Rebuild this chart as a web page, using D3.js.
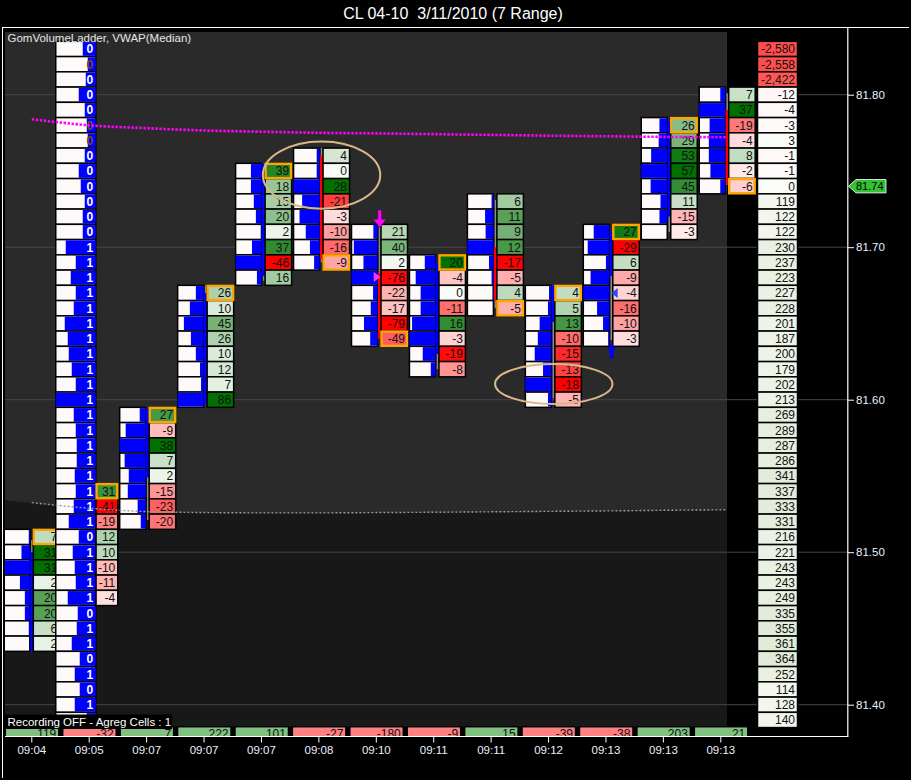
<!DOCTYPE html>
<html><head><meta charset="utf-8">
<script src="https://cdn.jsdelivr.net/npm/d3@7"></script>
<style>body{margin:0;background:#000;} svg{display:block;} text{font-family:"Liberation Sans",Arial,sans-serif;}</style>
</head><body><svg id="c" width="911" height="780"></svg>
<script>
// ---------------- DATA ----------------
const times = ["09:04","09:05","09:07","09:07","09:07","09:08","09:10","09:11","09:11","09:12","09:13","09:13","09:13"];
const topPrice = [81.51,81.54,81.59,81.67,81.75,81.76,81.71,81.69,81.73,81.67,81.71,81.78,81.80];
const closeCell = [81.51,81.54,81.59,81.67,81.75,81.69,81.64,81.69,81.66,81.67,81.71,81.78,81.74];
const deltas = [
  [7,31,31,2,20,20,6,2],
  [31,-41,-19,12,10,-10,-11,-4],
  [27,-9,38,7,2,-15,-23,-20],
  [26,10,45,26,10,12,7,86],
  [39,18,15,20,2,37,-46,16],
  [4,0,28,-21,-3,-10,-16,-9],
  [21,40,2,-76,-22,-17,-79,-49],
  [20,-4,0,-11,16,-3,-19,-8],
  [6,11,9,12,-17,-5,4,-5],
  [4,5,13,-10,-15,-13,-18,-5],
  [27,-29,6,-9,-4,-16,-10,-3],
  [26,29,53,57,45,11,-15,-3],
  [7,37,-19,-4,8,-2,-6]
];
const volumes = [
  [4,32,100,38,19,19,4,0],
  null,
  [23,77,100,81,65,69,31,19],
  [30,53,76,49,30,14,10,100],
  [41,41,30,22,3,37,100,18],
  [11,11,100,67,77,53,37,21],
  [16,91,54,100,17,26,52,28],
  [41,76,57,57,90,100,49,18],
  [7,32,30,100,17,7,3,0],
  [9,13,45,52,64,32,100,13],
  [60,83,13,72,100,47,24,4],
  [30,33,62,100,64,26,30,0],
  [19,100,60,63,63,57,19]
];
// long ladder of the 09:05 bar (81.83 down to 81.39)
const firstLadderTop = 81.83;
const firstLadderVol = [13,8,10,17,11,9,8,11,17,15,11,13,13,30,20,25,20,22,31,28,27,24,20,40,22,20,19,19,21,20,22,27,17,23,21,20,28,18,19,24,16,21,16,21,9];
const firstLadderLbl = ["0","0","0","0","0","0","0","0","0","0","0","0","0","1","1","1","1","1","1","1","1","1","1","1","1","1","1","1","1","1","1","1","0","1","1","1","1","0","1","1","0","1","0","1",""];
const open  = [81.435,null,81.549,81.597,81.681,81.760,81.683,81.630,81.700,81.651,81.681,81.720,81.790];
const close = [81.500,null,81.594,81.670,81.755,81.692,81.640,81.690,81.665,81.675,81.710,81.783,81.741];
const high  = [81.508,null,81.594,81.675,81.755,81.765,81.713,81.690,81.731,81.675,81.710,81.783,81.801];
const low   = [81.435,null,81.521,81.597,81.678,81.690,81.640,81.620,81.660,81.601,81.639,81.710,81.741];
const vwap = [81.7839,81.7799,81.7780,81.7765,81.7757,81.7750,81.7746,81.7741,81.7736,81.7731,81.7727,81.7723,81.7721];
const lowerBand = [81.5325,81.5288,81.5266,81.5260,81.5258,81.5258,81.5260,81.5262,81.5265,81.5268,81.5271,81.5275,81.5278];
const barTotals = [119,-32,7,222,101,-27,-180,-9,15,-39,-38,203,21];
const profileTop = 81.83;
const profile = [-2580,-2558,-2422,-12,-4,-3,3,-1,-1,0,119,122,122,230,237,223,227,228,201,187,200,179,202,213,269,289,287,286,341,337,333,331,216,221,243,243,249,335,355,361,364,252,114,128,140];
const priceTicks = [81.40,81.50,81.60,81.70,81.80];
const lastPrice = 81.74;
const title = "CL 04-10  3/11/2010 (7 Range)";
const indicatorLabel = "GomVolumeLadder, VWAP(Median)";
const statusLabel = "Recording OFF - Agreg Cells : 1";

// ---------------- CHART ----------------
const svg = d3.select("#c");
const W = 911, H = 780;
svg.append("rect").attr("width", W).attr("height", H).attr("fill", "#000");

const y = d3.scaleLinear().domain([81.40, 81.80]).range([704.7, 94.7]);
const cellH = Math.abs(y(81.41) - y(81.40));
const xBar = d3.scaleLinear().domain([0, 12]).range([3.8, 699.2]);
const xTime = d3.scaleLinear().domain([0, 12]).range([31.3, 720.3]);
const rp = v => Math.round(v * 100) / 100;
const font = '"Liberation Sans", Arial, sans-serif';
const fmtThousands = v => d3.format(",")(v).replace("\u2212", "-");

const defs = svg.append("defs");
defs.append("clipPath").attr("id", "plot").append("rect").attr("x", 5).attr("y", 32).attr("width", 843).attr("height", 704);
defs.append("clipPath").attr("id", "bottomRow").append("rect").attr("x", 0).attr("y", 726).attr("width", 848).attr("height", 10);

// frame
svg.append("line").attr("x1", 2).attr("x2", 909).attr("y1", 27.5).attr("y2", 27.5).attr("stroke", "#fff").attr("stroke-width", 1);
svg.append("line").attr("x1", 2.5).attr("x2", 2.5).attr("y1", 27).attr("y2", 778).attr("stroke", "#fff").attr("stroke-width", 1);

// title
svg.append("text").attr("x", 453).attr("y", 18.5).attr("text-anchor", "middle").attr("fill", "#fff")
  .attr("xml:space", "preserve").style("white-space", "pre")
  .style("font-size", "16px").text(title);

const plot = svg.append("g").attr("clip-path", "url(#plot)");

// panel background
plot.append("rect").attr("x", 5).attr("y", 32).attr("width", 722).attr("height", 695).attr("fill", "#181818");
const bandPts = lowerBand.map((v, i) => [xBar(i) + 28, y(v)]);
const upperPoly = [[5, 32], [727, 32], [727, bandPts[bandPts.length - 1][1]]]
  .concat(bandPts.slice().reverse()).concat([[5, bandPts[0][1] - 2.5]]);
plot.append("path").attr("d", d3.line()(upperPoly) + "Z").attr("fill", "#2a2a2a");

// grid
plot.selectAll(".grid").data(priceTicks).join("line")
  .attr("x1", 5).attr("x2", 848).attr("y1", d => y(d)).attr("y2", d => y(d))
  .attr("stroke", "#474747").attr("stroke-width", 1);

function deltaColor(v, m) {
  const t = Math.min(1, Math.abs(v) / m);
  if (v >= 0) return d3.interpolateRgb("#f8fbf6", "#007000")(t);
  return d3.interpolateRgb("#fff6f6", "#ff0000")(t);
}

const bars = plot.append("g");
deltas.forEach((dl, i) => {
  const L = xBar(i);
  const g = bars.append("g");
  if (i === 1) {
    const lx = L - 6, lw = 40;
    const vmax = d3.max(firstLadderVol);
    const wS = d3.scaleLinear().domain([0, vmax]).range([0, lw]);
    firstLadderVol.forEach((v, k) => {
      const p = rp(firstLadderTop - 0.01 * k);
      const yc = y(p);
      g.append("rect").attr("x", lx).attr("y", yc - cellH / 2).attr("width", lw).attr("height", cellH)
        .attr("fill", "#fffafa").attr("stroke", "#000").attr("stroke-width", 1.5);
      g.append("rect").attr("x", lx + lw - wS(v)).attr("y", yc - cellH / 2 + 0.75).attr("width", wS(v)).attr("height", cellH - 1.5)
        .attr("fill", "#0000ff");
      if (firstLadderLbl[k] !== "")
        g.append("text").attr("x", lx + lw - 2.5).attr("y", yc + 4.5).attr("text-anchor", "end")
          .attr("fill", wS(v) > 9.5 ? "#fff" : "#7a4a10").style("font-size", "12px").style("font-weight", "bold")
          .text(firstLadderLbl[k]);
    });
  } else {
    const lw = 26;
    const vol = volumes[i];
    const wS = d3.scaleLinear().domain([0, d3.max(vol)]).range([0, lw]);
    vol.forEach((v, k) => {
      const yc = y(rp(topPrice[i] - 0.01 * k));
      g.append("rect").attr("x", L).attr("y", yc - cellH / 2).attr("width", lw).attr("height", cellH)
        .attr("fill", "#fffafa").attr("stroke", "#000").attr("stroke-width", 1.5);
      g.append("rect").attr("x", L + lw - wS(v)).attr("y", yc - cellH / 2 + 0.75).attr("width", wS(v)).attr("height", cellH - 1.5)
        .attr("fill", "#0000ff");
    });
  }
  if (open[i] !== null) {
    const up = close[i] >= open[i];
    g.append("rect").attr("x", L + 27.3).attr("width", 1.8).attr("y", y(high[i])).attr("height", Math.max(1, y(low[i]) - y(high[i])))
      .attr("fill", "#8a8a8a");
    g.append("rect").attr("x", L + 26.5).attr("width", 3.4)
      .attr("y", y(Math.max(open[i], close[i]))).attr("height", Math.abs(y(open[i]) - y(close[i])))
      .attr("fill", up ? "#0000ff" : "#ff0000");
  }
  const dx = i === 1 ? L + 34.3 : L + 29.5;
  const dw = L + 56 - dx;
  const m = d3.max(dl, d => Math.abs(d));
  dl.forEach((v, k) => {
    const p = rp(topPrice[i] - 0.01 * k);
    const yc = y(p);
    g.append("rect").attr("x", dx).attr("y", yc - cellH / 2).attr("width", dw).attr("height", cellH)
      .attr("fill", deltaColor(v, m)).attr("stroke", "#000").attr("stroke-width", 1.5);
    g.append("text").attr("x", dx + dw - 2.5).attr("y", yc + 4.3).attr("text-anchor", "end")
      .attr("fill", "#111").style("font-size", "12px").text(v);
  });
  const yc = y(closeCell[i]);
  g.append("rect").attr("x", dx + 0.5).attr("y", yc - cellH / 2 + 0.5).attr("width", dw - 1).attr("height", cellH - 1)
    .attr("fill", "none").attr("stroke", "#ffa500").attr("stroke-width", 2.4);
});

// right profile ladder
const pg = plot.append("g");
const posMax = d3.max(profile), negMax = Math.abs(d3.min(profile));
profile.forEach((v, k) => {
  const yc = y(rp(profileTop - 0.01 * k));
  const fill = v < 0 ? d3.interpolateRgb("#fff8f8", "#ff4c4c")(Math.abs(v) / negMax)
                     : d3.interpolateRgb("#fcfcf8", "#e0ebd8")(v / posMax);
  pg.append("rect").attr("x", 757.5).attr("y", yc - cellH / 2).attr("width", 40).attr("height", cellH)
    .attr("fill", fill).attr("stroke", "#000").attr("stroke-width", 1.5);
  pg.append("text").attr("x", 795).attr("y", yc + 4.3).attr("text-anchor", "end").attr("fill", "#111")
    .style("font-size", "12px").text(fmtThousands(v));
});

// VWAP + lower band lines
const lineGen = d3.line().x((d, i) => xBar(i) + 28).y(d => y(d)).curve(d3.curveMonotoneX);
plot.append("path").attr("d", lineGen(lowerBand)).attr("fill", "none").attr("stroke", "#9a9a9a")
  .attr("stroke-width", 1.4).attr("stroke-dasharray", "2,2");
plot.append("path").attr("d", lineGen(vwap)).attr("fill", "none").attr("stroke", "#ff00ff")
  .attr("stroke-width", 2.6).attr("stroke-dasharray", "2.4,1.6");

// annotations
const ann = plot.append("g");
ann.append("ellipse").attr("cx", xBar(5) + 28).attr("cy", y(81.7473)).attr("rx", 58.7).attr("ry", 33.6)
  .attr("fill", "none").attr("stroke", "#d8b888").attr("stroke-width", 2);
ann.append("ellipse").attr("cx", xBar(9) + 28.4).attr("cy", y(81.6103)).attr("rx", 58.7).attr("ry", 20)
  .attr("fill", "none").attr("stroke", "#d8b888").attr("stroke-width", 2);
{
  const cx = xBar(6) + 28.2, tip = y(high[6]);
  ann.append("rect").attr("x", cx - 1.6).attr("y", tip - 17).attr("width", 3.2).attr("height", 10).attr("fill", "#ff00ff");
  ann.append("path").attr("d", `M${cx - 6},${tip - 8} L${cx + 6},${tip - 8} L${cx},${tip} Z`).attr("fill", "#ff00ff");
  const ty = y(81.6805);
  ann.append("path").attr("d", `M${cx - 6},${ty - 5} L${cx + 1},${ty} L${cx - 6},${ty + 5} Z`).attr("fill", "#ff33ff");
}
{
  const cx = xBar(10) + 28.3;
  const ty = y(81.67);
  ann.append("path").attr("d", `M${cx + 6},${ty - 5} L${cx},${ty} L${cx + 6},${ty + 5} Z`).attr("fill", "#3344ff");
  const tip = y(low[10]) + 3;
  ann.append("path").attr("d", `M${cx - 4},${tip + 7} L${cx + 4},${tip + 7} L${cx},${tip} Z`).attr("fill", "#0000ff");
  ann.append("rect").attr("x", cx - 2).attr("y", tip + 6).attr("width", 4).attr("height", 9).attr("fill", "#0000ff");
}

// bottom totals row
const br = svg.append("g").attr("clip-path", "url(#bottomRow)");
barTotals.forEach((v, i) => {
  const T = xTime(i);
  const x0 = Math.max(5, T - 26), x1 = T + 27.5;
  br.append("rect").attr("x", x0).attr("y", 726.7).attr("width", x1 - x0).attr("height", 14)
    .attr("fill", v >= 0 ? "#80c080" : "#ff8080").attr("stroke", "#000").attr("stroke-width", 1.5);
  br.append("text").attr("x", x1 - 2.5).attr("y", 737.5).attr("text-anchor", "end").attr("fill", "#111")
    .style("font-size", "12px").text(v);
});

// status box
svg.append("rect").attr("x", 5).attr("y", 714.5).attr("width", 167).attr("height", 14.5).attr("fill", "#000");
svg.append("text").attr("x", 7.5).attr("y", 726).attr("fill", "#fff").style("font-size", "11.5px").text(statusLabel);

// indicator label
svg.append("text").attr("x", 7.5).attr("y", 41.5).attr("fill", "#e6e6e6").style("font-size", "11.5px").text(indicatorLabel);

// axes lines
svg.append("line").attr("x1", 847.8).attr("x2", 847.8).attr("y1", 27).attr("y2", 736.5).attr("stroke", "#fff").attr("stroke-width", 1.2);
svg.append("line").attr("x1", 5).attr("x2", 848.4).attr("y1", 736.5).attr("y2", 736.5).attr("stroke", "#fff").attr("stroke-width", 1.2);

// price axis
const yAxis = d3.axisRight(y).tickValues(priceTicks).tickFormat(d3.format(".2f")).tickSize(6).tickPadding(2);
const ya = svg.append("g").attr("transform", "translate(848,0)").call(yAxis);
ya.select(".domain").remove();
ya.selectAll("line").attr("stroke", "#fff");
ya.selectAll("text").attr("fill", "#e8f0ff").style("font-size", "11.5px").style("font-family", font);

// time axis
const xAxis = d3.axisBottom(xTime).tickValues(d3.range(times.length)).tickFormat(i => times[i]).tickSize(6).tickPadding(3);
const xa = svg.append("g").attr("transform", "translate(0,736.5)").call(xAxis);
xa.select(".domain").remove();
xa.selectAll("line").attr("stroke", "#fff");
xa.selectAll("text").attr("fill", "#e8f0ff").style("font-size", "11.5px").style("font-family", font);

// last price tag
{
  const ty = y(lastPrice);
  svg.append("path").attr("d", `M848.5,${ty} L856,${ty - 6.7} L886,${ty - 6.7} L886,${ty + 6.7} L856,${ty + 6.7} Z`)
    .attr("fill", "#33c233").attr("stroke", "#fff").attr("stroke-width", 0.8);
  svg.append("text").attr("x", 856).attr("y", ty + 4.2).attr("fill", "#000").style("font-size", "11px").text(d3.format(".2f")(lastPrice));
}
</script></body></html>
